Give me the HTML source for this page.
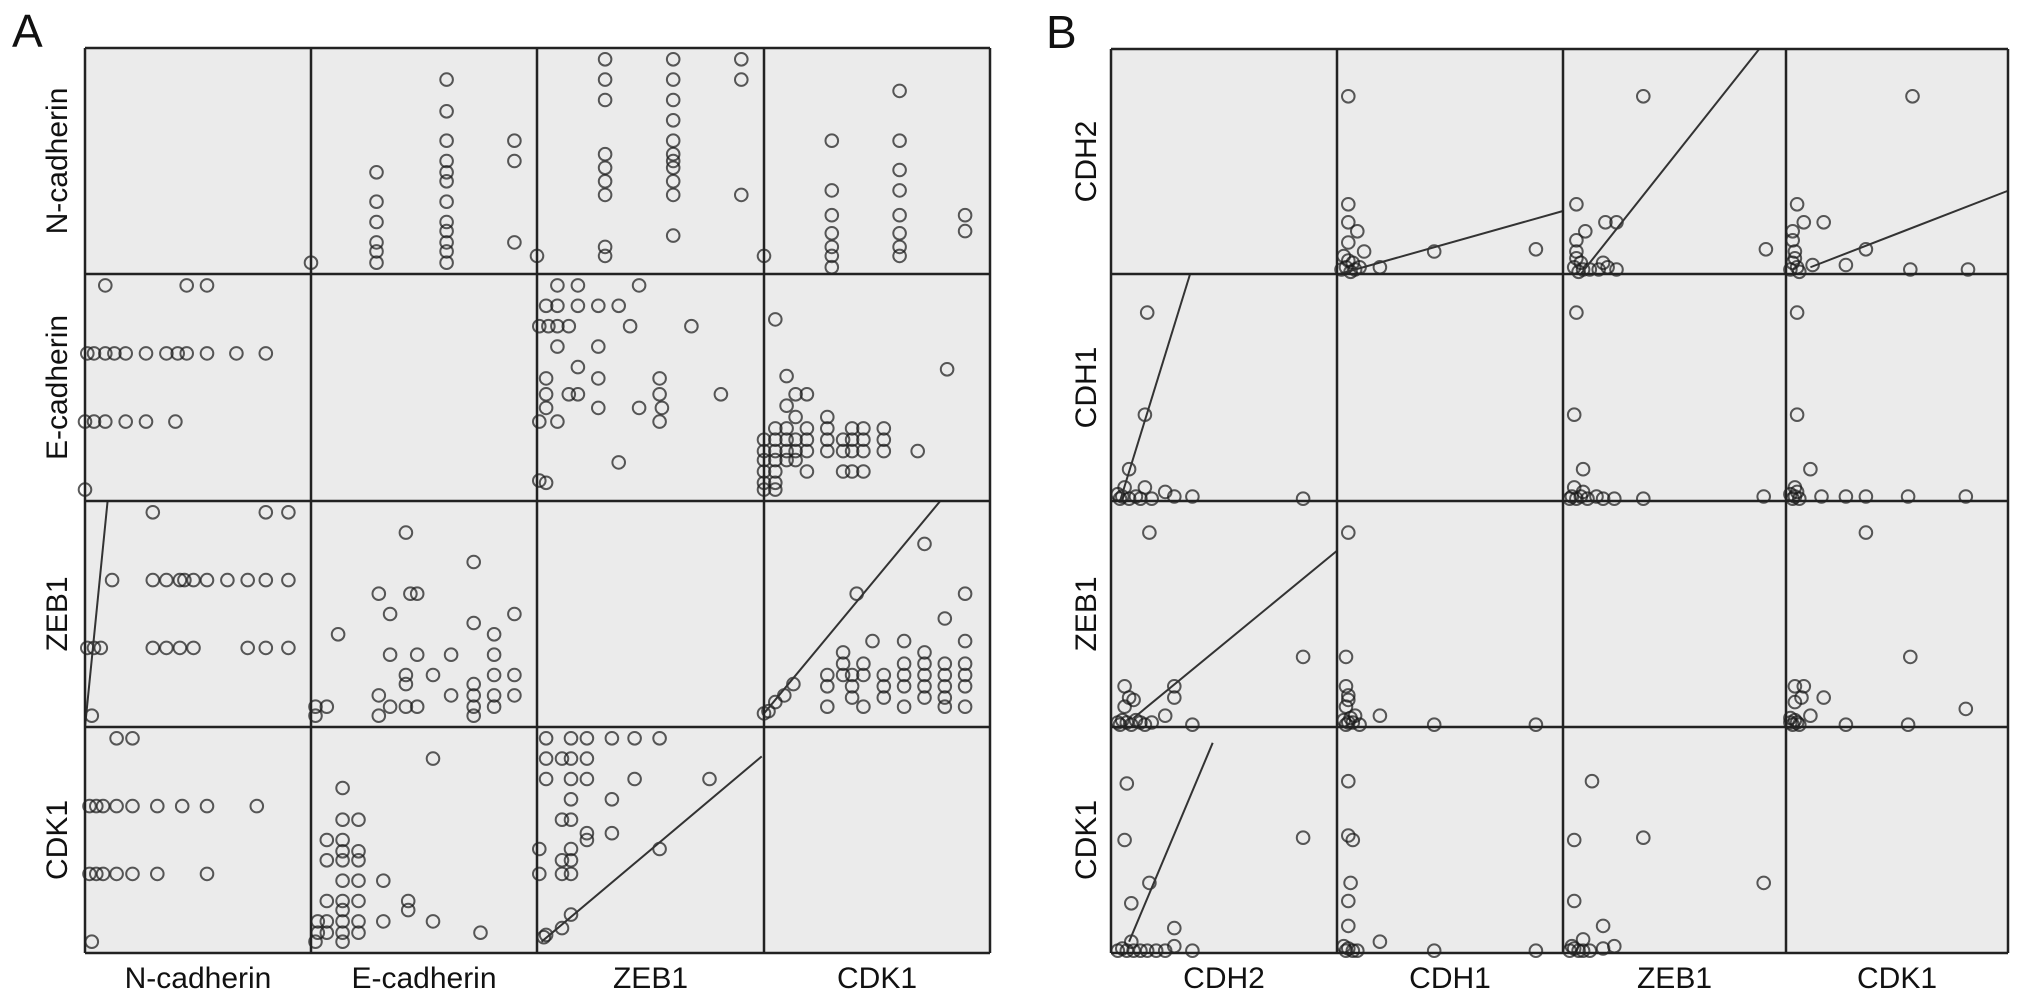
<!DOCTYPE html>
<html><head><meta charset="utf-8">
<style>
html,body{margin:0;padding:0;background:#fff;}
svg{display:block;}
text{font-family:"Liberation Sans",Arial,sans-serif;fill:#111;}
</style></head>
<body>
<svg id="chart" width="2032" height="1001" viewBox="0 0 2032 1001" xmlns="http://www.w3.org/2000/svg">
<text x="12" y="47" font-size="46">A</text>
<text x="1046" y="48" font-size="46">B</text>
</svg>
<script>
// ---- data (normalized values within each cell: [x, y], 0..1) ----
const varsA = ["N-cadherin","E-cadherin","ZEB1","CDK1"];
const varsB = ["CDH2","CDH1","ZEB1","CDK1"];

const A01 = [[0,.05],[.29,.45],[.29,.32],[.29,.23],[.29,.14],[.29,.10],[.29,.05],[.60,.86],[.60,.72],[.60,.59],[.60,.50],[.60,.45],[.60,.41],[.60,.32],[.60,.23],[.60,.19],[.60,.14],[.60,.10],[.60,.05],[.90,.59],[.90,.50],[.90,.14]];
const A02 = [[0,.08],[.30,.95],[.30,.86],[.30,.77],[.30,.53],[.30,.47],[.30,.41],[.30,.35],[.30,.12],[.30,.08],[.60,.95],[.60,.86],[.60,.77],[.60,.68],[.60,.59],[.60,.53],[.60,.50],[.60,.47],[.60,.41],[.60,.35],[.60,.17],[.90,.95],[.90,.86],[.90,.35]];
const A03 = [[0,.08],[.30,.59],[.30,.37],[.30,.26],[.30,.18],[.30,.12],[.30,.08],[.30,.03],[.60,.81],[.60,.59],[.60,.46],[.60,.37],[.60,.26],[.60,.18],[.60,.12],[.60,.08],[.89,.26],[.89,.19]];
const A10 = [[.09,.95],[.45,.95],[.54,.95],[.01,.65],[.04,.65],[.09,.65],[.13,.65],[.18,.65],[.27,.65],[.36,.65],[.41,.65],[.45,.65],[.54,.65],[.67,.65],[.80,.65],[0,.35],[.04,.35],[.09,.35],[.18,.35],[.27,.35],[.40,.35],[0,.05]];
const A12 = [[.09,.95],[.18,.95],[.45,.95],[.04,.86],[.09,.86],[.18,.86],[.27,.86],[.36,.86],[.01,.77],[.05,.77],[.09,.77],[.14,.77],[.41,.77],[.68,.77],[.09,.68],[.27,.68],[.18,.59],[.04,.54],[.27,.54],[.54,.54],[.04,.47],[.14,.47],[.18,.47],[.54,.47],[.81,.47],[.04,.41],[.27,.41],[.45,.41],[.55,.41],[.01,.35],[.09,.35],[.54,.35],[.36,.17],[.01,.09],[.04,.08]];
const A13 = [[.05,.80],[.81,.58],[.10,.55],[.14,.47],[.19,.47],[.10,.42],[.14,.37],[.28,.37],[.05,.32],[.10,.32],[.19,.32],[.28,.32],[.39,.32],[.44,.32],[.53,.32],[0,.27],[.05,.27],[.10,.27],[.14,.27],[.19,.27],[.28,.27],[.35,.27],[.39,.27],[.44,.27],[.53,.27],[0,.22],[.05,.22],[.10,.22],[.14,.22],[.19,.22],[.28,.22],[.35,.22],[.39,.22],[.44,.22],[.53,.22],[.68,.22],[0,.18],[.05,.18],[.10,.18],[.14,.18],[0,.13],[.05,.13],[.19,.13],[.35,.13],[.39,.13],[.44,.13],[0,.08],[.05,.08],[0,.05],[.05,.05]];
const A20 = [[.30,.95],[.80,.95],[.90,.95],[.12,.65],[.30,.65],[.36,.65],[.42,.65],[.44,.65],[.48,.65],[.54,.65],[.63,.65],[.72,.65],[.80,.65],[.90,.65],[.01,.35],[.04,.35],[.07,.35],[.30,.35],[.36,.35],[.42,.35],[.48,.35],[.72,.35],[.80,.35],[.90,.35],[.03,.05]];
const A20line = [[0,0],[.10,1]];
const A21 = [[.42,.86],[.72,.73],[.30,.59],[.44,.59],[.47,.59],[.35,.50],[.90,.50],[.72,.46],[.12,.41],[.81,.41],[.35,.32],[.47,.32],[.62,.32],[.81,.32],[.42,.23],[.54,.23],[.81,.23],[.90,.23],[.42,.19],[.72,.19],[.30,.14],[.62,.14],[.72,.14],[.81,.14],[.90,.14],[.02,.09],[.07,.09],[.35,.09],[.42,.09],[.47,.09],[.72,.09],[.81,.09],[.02,.05],[.30,.05],[.72,.05]];
const A23 = [[.71,.81],[.41,.59],[.89,.59],[.80,.48],[.48,.38],[.62,.38],[.89,.38],[.35,.33],[.71,.33],[.35,.28],[.44,.28],[.62,.28],[.71,.28],[.80,.28],[.89,.28],[.28,.23],[.35,.23],[.39,.23],[.44,.23],[.53,.23],[.62,.23],[.71,.23],[.80,.23],[.89,.23],[.28,.18],[.39,.18],[.53,.18],[.62,.18],[.71,.18],[.80,.18],[.89,.18],[.39,.13],[.53,.13],[.71,.13],[.80,.13],[.28,.09],[.44,.09],[.62,.09],[.80,.09],[.89,.09],[.05,.11],[.09,.14],[.13,.19],[0,.06],[.02,.07]];
const A23line = [[0,.06],[.78,1]];
const A30 = [[.14,.95],[.21,.95],[.02,.65],[.05,.65],[.08,.65],[.14,.65],[.21,.65],[.32,.65],[.43,.65],[.54,.65],[.76,.65],[.02,.35],[.05,.35],[.08,.35],[.14,.35],[.21,.35],[.32,.35],[.54,.35],[.03,.05]];
const A31 = [[.14,.73],[.54,.86],[.14,.59],[.21,.59],[.07,.50],[.14,.50],[.14,.45],[.21,.45],[.07,.41],[.14,.41],[.21,.41],[.14,.32],[.21,.32],[.32,.32],[.07,.23],[.14,.23],[.21,.23],[.43,.23],[.14,.19],[.43,.19],[.03,.14],[.07,.14],[.14,.14],[.21,.14],[.32,.14],[.54,.14],[.03,.09],[.07,.09],[.14,.09],[.21,.09],[.75,.09],[.02,.05],[.14,.05]];
const A32 = [[.04,.95],[.15,.95],[.22,.95],[.33,.95],[.43,.95],[.54,.95],[.04,.86],[.11,.86],[.15,.86],[.22,.86],[.04,.77],[.15,.77],[.22,.77],[.43,.77],[.76,.77],[.15,.68],[.33,.68],[.11,.59],[.15,.59],[.22,.53],[.33,.53],[.22,.50],[.01,.46],[.15,.46],[.54,.46],[.11,.41],[.15,.41],[.01,.35],[.11,.35],[.15,.35],[.15,.17],[.11,.11],[.04,.08],[.03,.07]];
const A32line = [[.02,.05],[.99,.87]];

const B01 = [[.05,.79],[.05,.31],[.05,.23],[.09,.19],[.05,.14],[.12,.10],[.03,.08],[.05,.06],[.07,.05],[.04,.03],[.08,.02],[.02,.02],[.10,.03],[.06,.01],[.19,.03],[.43,.10],[.88,.11]];
const B01line = [[.01,0],[1,.28]];
const B02 = [[.36,.79],[.06,.31],[.19,.23],[.24,.23],[.10,.19],[.06,.15],[.06,.10],[.06,.07],[.08,.05],[.05,.03],[.09,.02],[.07,.01],[.12,.02],[.16,.02],[.18,.05],[.20,.03],[.24,.02],[.91,.11]];
const B02line = [[.08,0],[.88,1]];
const B03 = [[.57,.79],[.05,.31],[.08,.23],[.17,.23],[.03,.19],[.03,.15],[.04,.10],[.04,.07],[.03,.05],[.05,.03],[.02,.02],[.06,.01],[.12,.04],[.27,.04],[.36,.11],[.56,.02],[.82,.02]];
const B03line = [[.11,.03],[1,.37]];
const B10 = [[.16,.83],[.15,.38],[.08,.14],[.06,.06],[.15,.06],[.24,.04],[.28,.02],[.36,.02],[.85,.01],[.03,.03],[.05,.02],[.08,.01],[.11,.02],[.04,.01],[.13,.01],[.18,.01]];
const B10line = [[.35,1],[.04,0]];
const B12 = [[.06,.83],[.05,.38],[.09,.14],[.05,.06],[.09,.04],[.15,.02],[.18,.01],[.23,.01],[.36,.01],[.90,.02],[.04,.02],[.06,.01],[.08,.02],[.11,.01],[.03,.01]];
const B13 = [[.05,.83],[.05,.38],[.11,.14],[.04,.06],[.16,.02],[.27,.02],[.36,.02],[.55,.02],[.81,.02],[.02,.03],[.04,.02],[.06,.01],[.03,.01],[.05,.04]];
const B20 = [[.17,.86],[.85,.31],[.06,.18],[.28,.18],[.28,.13],[.08,.13],[.10,.12],[.06,.09],[.24,.05],[.36,.01],[.03,.02],[.05,.03],[.07,.02],[.09,.01],[.11,.03],[.13,.02],[.15,.01],[.04,.01],[.18,.02]];
const B20line = [[.10,.04],[1,.78]];
const B21 = [[.05,.86],[.04,.31],[.04,.18],[.05,.14],[.05,.12],[.04,.09],[.08,.05],[.19,.05],[.43,.01],[.88,.01],[.03,.03],[.05,.02],[.04,.01],[.07,.02],[.06,.04],[.10,.01]];
const B23 = [[.36,.86],[.56,.31],[.04,.18],[.08,.18],[.07,.13],[.04,.11],[.17,.13],[.11,.05],[.27,.01],[.55,.01],[.81,.08],[.02,.02],[.04,.03],[.06,.01],[.03,.01],[.05,.02],[.02,.04]];
const B30 = [[.07,.75],[.06,.50],[.85,.51],[.17,.31],[.09,.22],[.28,.11],[.09,.05],[.28,.03],[.36,.01],[.03,.01],[.05,.02],[.07,.01],[.10,.01],[.13,.01],[.16,.01],[.20,.01],[.24,.01]];
const B30line = [[.08,.05],[.45,.93]];
const B31 = [[.05,.76],[.05,.52],[.07,.50],[.06,.31],[.05,.23],[.05,.12],[.19,.05],[.43,.01],[.88,.01],[.03,.03],[.05,.02],[.07,.01],[.04,.01],[.09,.01]];
const B32 = [[.13,.76],[.05,.50],[.36,.51],[.90,.31],[.05,.23],[.18,.12],[.09,.06],[.23,.03],[.18,.02],[.03,.01],[.05,.02],[.07,.01],[.09,.01],[.04,.03],[.12,.01]];

const cellsA = [[0,1,A01,null],[0,2,A02,null],[0,3,A03,null],[1,0,A10,null],[1,2,A12,null],[1,3,A13,null],[2,0,A20,A20line],[2,1,A21,null],[2,3,A23,A23line],[3,0,A30,null],[3,1,A31,null],[3,2,A32,A32line]];
const cellsB = [[0,1,B01,B01line],[0,2,B02,B02line],[0,3,B03,B03line],[1,0,B10,B10line],[1,2,B12,null],[1,3,B13,null],[2,0,B20,B20line],[2,1,B21,null],[2,3,B23,null],[3,0,B30,B30line],[3,1,B31,null],[3,2,B32,null]];

// ---- layout ----
const NS = "http://www.w3.org/2000/svg";
const svg = document.getElementById("chart");
function mk(tag, attrs){ const e=document.createElementNS(NS,tag); for(const k in attrs) e.setAttribute(k,attrs[k]); return e; }

function panel(id, cols, rows, vars, cells, rowLabelX){
  const g = mk("g",{});
  
  
  svg.appendChild(g);
  const bg = mk("rect",{x:cols[0],y:rows[0],width:cols[4]-cols[0],height:rows[4]-rows[0],fill:"#ebebeb"});
  
  
  g.appendChild(bg);
  const xs = (c,v)=> cols[c] + v*(cols[c+1]-cols[c]);
  const ys = (r,v)=> rows[r+1] - v*(rows[r+1]-rows[r]);
  cells.forEach(([r,c,pts,line])=>{
    const cg = mk("g",{});
    
    
    g.appendChild(cg);
    pts.forEach(p=>{
      const ci = mk("circle",{cx:xs(c,p[0]).toFixed(1),cy:ys(r,p[1]).toFixed(1),r:6.3,fill:"none",stroke:"#1a1a1a","stroke-width":2,"stroke-opacity":0.72});
      
      
      cg.appendChild(ci);
    });
    if(line){
      const ln = mk("line",{x1:xs(c,line[0][0]),y1:ys(r,line[0][1]),x2:xs(c,line[1][0]),y2:ys(r,line[1][1]),stroke:"#333","stroke-width":2});
      
      
      cg.appendChild(ln);
    }
  });
  for(let i=0;i<5;i++){
    const vl = mk("line",{x1:cols[i],y1:rows[0],x2:cols[i],y2:rows[4],stroke:"#222","stroke-width":2.5});
    
    
    g.appendChild(vl);
    const hl = mk("line",{x1:cols[0],y1:rows[i],x2:cols[4],y2:rows[i],stroke:"#222","stroke-width":2.5});
    
    
    g.appendChild(hl);
  }
  for(let i=0;i<4;i++){
    const cx=(cols[i]+cols[i+1])/2;
    const t = mk("text",{x:cx,y:988,"font-size":30,"text-anchor":"middle"});
    t.textContent = vars[i];
    
    
    g.appendChild(t);
    const cy=(rows[i]+rows[i+1])/2;
    const rt = mk("text",{x:rowLabelX,y:cy,"font-size":30,"text-anchor":"middle",transform:`rotate(-90 ${rowLabelX} ${cy})`});
    rt.textContent = vars[i];
    
    
    g.appendChild(rt);
  }
}
panel("a",[85,311,537,764,990],[48,274,501,727,953],varsA,cellsA,67);
panel("b",[1111,1337,1563,1786,2008],[49,274,501,727,953],varsB,cellsB,1096);
</script>
</body></html>
